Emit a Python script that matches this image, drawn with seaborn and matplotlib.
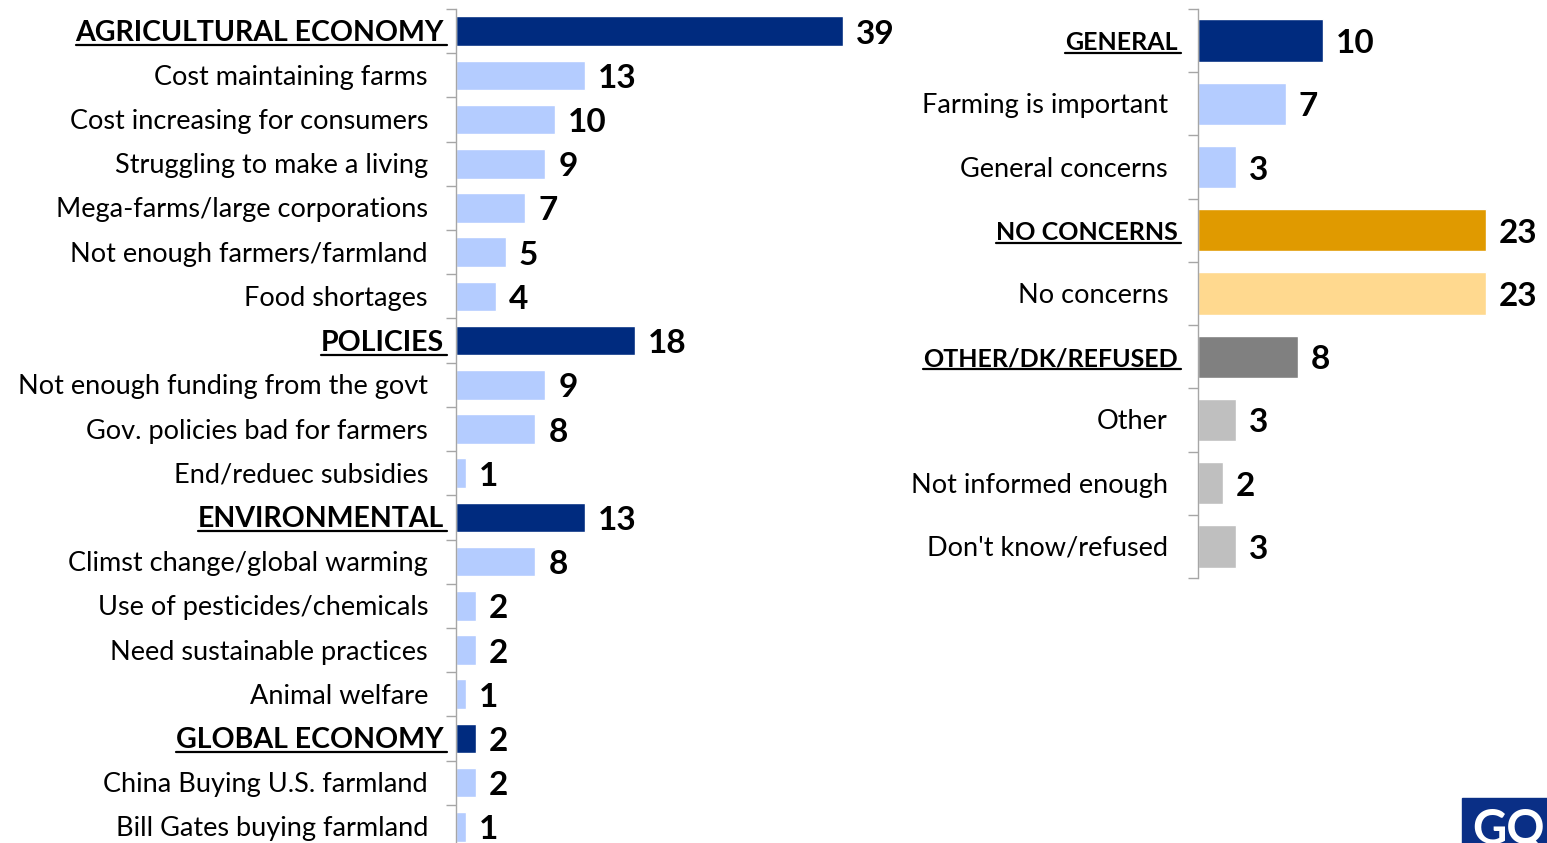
import matplotlib
matplotlib.use("Agg")
import matplotlib.pyplot as plt
from matplotlib.lines import Line2D
from matplotlib.patches import Rectangle
import seaborn as sns

sns.set_theme(style="white")
plt.rcParams["font.family"] = ["Lato", "DejaVu Sans"]

# ---------------- DATA ----------------
left_labels = [
    "AGRICULTURAL ECONOMY", "Cost maintaining farms", "Cost increasing for consumers",
    "Struggling to make a living", "Mega-farms/large corporations", "Not enough farmers/farmland",
    "Food shortages", "POLICIES", "Not enough funding from the govt",
    "Gov. policies bad for farmers", "End/reduec subsidies", "ENVIRONMENTAL",
    "Climst change/global warming", "Use of pesticides/chemicals", "Need sustainable practices",
    "Animal welfare", "GLOBAL ECONOMY", "China Buying U.S. farmland", "Bill Gates buying farmland",
]
left_values = [39, 13, 10, 9, 7, 5, 4, 18, 9, 8, 1, 13, 8, 2, 2, 1, 2, 2, 1]
left_header = [True, False, False, False, False, False, False, True, False, False, False,
               True, False, False, False, False, True, False, False]

right_labels = [
    "GENERAL", "Farming is important", "General concerns", "NO CONCERNS", "No concerns",
    "OTHER/DK/REFUSED", "Other", "Not informed enough", "Don't know/refused",
]
right_values = [10, 7, 3, 23, 23, 8, 3, 2, 3]
right_header = [True, False, False, True, False, True, False, False, False]
right_group = ["blue", "blue", "blue", "orange", "orange", "gray", "gray", "gray", "gray"]

group_colors = {
    "blue": ("#002B7F", "#B4CCFF"),
    "orange": ("#E09A00", "#FFD98F"),
    "gray": ("#808080", "#BFBFBF"),
}

W, H = 1547, 843
fig = plt.figure(figsize=(W / 100, H / 100), dpi=100)

LABEL_SIZE = 19.5
VALUE_SIZE = 24
header_texts = []


def draw_panel(ax, labels, values, header, groups, xmax, pad_norm, pad_head, head_size):
    colors = [group_colors[g][0] if h else group_colors[g][1] for g, h in zip(groups, header)]
    sns.barplot(x=values, y=labels, hue=labels, palette=colors, legend=False,
                width=0.67, saturation=1, ax=ax)
    n = len(labels)
    ax.set_xlim(0, xmax)
    ax.set_ylim(n - 0.5, -0.5)
    ax.set_xticks([])
    ax.set_yticks([])
    ax.set_yticks([k - 0.5 for k in range(n + 1)], minor=True)
    ax.tick_params(axis="y", which="minor", left=True, length=7, width=1, color="#A6A6A6")
    ax.set_xlabel("")
    ax.set_ylabel("")
    for s in ["top", "right", "bottom"]:
        ax.spines[s].set_visible(False)
    ax.spines["left"].set_color("#A6A6A6")
    ax.spines["left"].set_linewidth(1)
    ax.patch.set_alpha(0)

    for i, (lab, v, h) in enumerate(zip(labels, values, header)):
        t = ax.annotate(lab, xy=(0, i), xytext=(-(pad_head if h else pad_norm), -2),
                        textcoords="offset pixels", ha="right", va="center",
                        fontsize=head_size if h else LABEL_SIZE,
                        fontweight="bold" if h else "normal",
                        color="black", annotation_clip=False)
        if h:
            header_texts.append(t)
        ax.annotate(str(v), xy=(v, i), xytext=(13, -3), textcoords="offset pixels",
                    ha="left", va="center", fontsize=VALUE_SIZE, fontweight="bold",
                    color="black", annotation_clip=False)


# left panel: 19 rows, 44.2 px each
ax1 = fig.add_axes([456 / W, (H - 849) / H, 396.8 / W, 840 / H])
draw_panel(ax1, left_labels, left_values, left_header,
           ["blue"] * len(left_labels), 40, 28, 12, 20.5)

# right panel: 9 rows, 63.2 px each
ax2 = fig.add_axes([1198 / W, (H - 578) / H, 337.5 / W, 569 / H])
draw_panel(ax2, right_labels, right_values, right_header, right_group, 27, 30, 20, 18)

# underline the section headers
fig.canvas.draw()
renderer = fig.canvas.get_renderer()
for t in header_texts:
    bb = t.get_window_extent(renderer)
    y = (bb.y0 + 1) / H
    fig.add_artist(Line2D([bb.x0 / W, (bb.x1 + 3) / W], [y, y], color="black", linewidth=1.6))

# logo corner
fig.add_artist(Rectangle((1462 / W, 0), 100 / W, 45 / H, transform=fig.transFigure,
                         color="#0A2F86", zorder=5))
fig.text(1472 / W, -8 / H, "GQR", color="white", fontsize=34, fontweight="bold",
         ha="left", va="bottom", zorder=6)

fig.savefig("out.png", dpi=100)
